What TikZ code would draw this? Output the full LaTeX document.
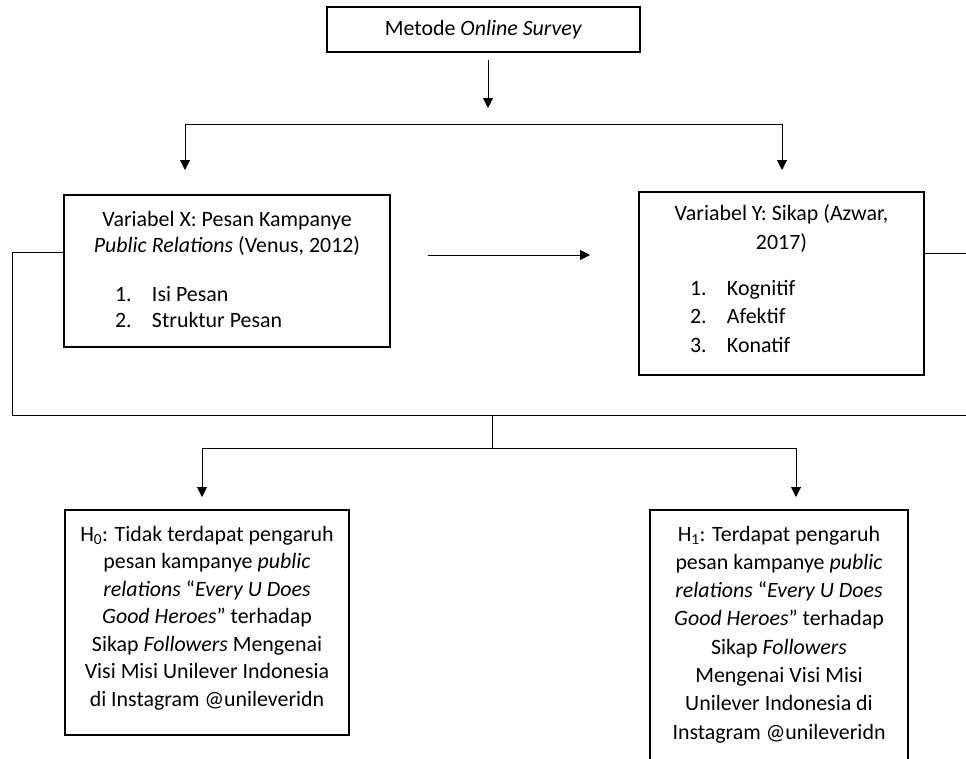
\documentclass[tikz,border=0pt]{standalone}
\usepackage{fontspec}
\setmainfont{Carlito}
\usepackage{tikz}
\usetikzlibrary{arrows.meta, calc}
\tikzset{
  box/.style={rectangle, draw=black, line width=1.3pt, inner sep=0pt,
    align=flush center, font=\fontsize{21.9}{27.5}\selectfont},
  arrow/.style={-{Triangle[width=10pt,length=10pt]}, line width=1pt, color=black},
  line/.style={line width=1pt, color=black}
}
\newcommand{\listitem}[2]{\makebox[\linewidth][l]{\hspace*{51pt}\makebox[37pt][l]{#1}#2}}
\newcommand{\lowdepth}[1]{\rule[-#1]{0pt}{#1}}

\begin{document}
\begin{tikzpicture}[x=1pt, y=-1pt]
  \useasboundingbox (0,0) rectangle (966,758);
  \node[box, minimum width=313pt, minimum height=45pt] (metode) at (483.5,29.5) {Metode \textit{Online Survey}};
  \node[box, text width=326pt, minimum height=152pt,
    font=\fontsize{21.9}{26}\selectfont] (varx) at (227,271)
    {Variabel X: Pesan Kampanye\\ \textit{Public Relations} (Venus, 2012)\\[23pt]
     \listitem{1.}{Isi Pesan}\\ \listitem{2.}{Struktur Pesan}\lowdepth{4pt}};
  \node[box, text width=285pt, minimum height=183pt,
    font=\fontsize{21.9}{28.5}\selectfont] (vary) at (781.5,283.5)
    {Variabel Y: Sikap (Azwar,\\ 2017)\\[17.5pt]
     \listitem{1.}{Kognitif}\\ \listitem{2.}{Afektif}\\ \listitem{3.}{Konatif}\lowdepth{10pt}};
  \node[box, text width=284pt, minimum height=225pt] (hnol) at (207,622.5)
    {H\textsubscript{0}: Tidak terdapat pengaruh\\ pesan kampanye \textit{public}\\
     \textit{relations} “\textit{Every U Does}\\ \textit{Good Heroes}” terhadap\\
     Sikap \textit{Followers} Mengenai\\ Visi Misi Unilever Indonesia\\ di Instagram @unileveridn\lowdepth{12.5pt}};
  \node[box, text width=258pt, minimum height=257pt,
    font=\fontsize{21.9}{28.3}\selectfont] (hsatu) at (779,638.5)
    {H\textsubscript{1}: Terdapat pengaruh\\ pesan kampanye \textit{public}\\
     \textit{relations} “\textit{Every U Does}\\ \textit{Good Heroes}” terhadap\\
     Sikap \textit{Followers}\\ Mengenai Visi Misi\\ Unilever Indonesia di\\ Instagram @unileveridn\lowdepth{12pt}};
  % connector points
  \coordinate (m1) at (488,60);
  \coordinate (m2) at (488,108);
  \coordinate (sl) at (185,124);
  \coordinate (sr) at (782,124);
  \coordinate (tl) at (185,170);
  \coordinate (tr) at (782,170);
  \coordinate (xy1) at (428,255);
  \coordinate (xy2) at (590,255);
  \coordinate (loopl) at (12,415);
  \coordinate (loopr) at (975,415);
  \coordinate (d0) at (492,415);
  \coordinate (d1) at (492,448);
  \coordinate (hl) at (202,448);
  \coordinate (hr) at (796,448);
  \coordinate (bl) at (202,497);
  \coordinate (br) at (796,497);
  \draw[arrow] (m1) -- (m2);
  \draw[line] (sl) -- (sr);
  \draw[arrow] (sl) -- (tl);
  \draw[arrow] (sr) -- (tr);
  \draw[arrow] (xy1) -- (xy2);
  \draw[line] ([yshift=19pt]varx.west) -| (loopl) -- (loopr) |- ([yshift=30.5pt]vary.east);
  \draw[line] (d0) -- (d1);
  \draw[line] (hl) -- (hr);
  \draw[arrow] (hl) -- (bl);
  \draw[arrow] (hr) -- (br);
\end{tikzpicture}
\end{document}
